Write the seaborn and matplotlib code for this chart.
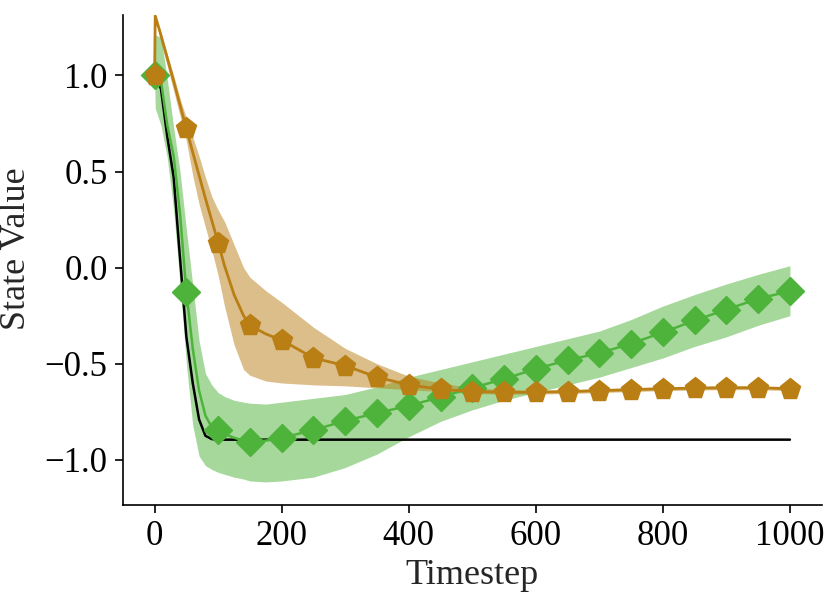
import matplotlib
matplotlib.use("Agg")
import matplotlib.pyplot as plt
import numpy as np
import pandas as pd
import seaborn as sns

# values
timesteps = [0, 1, 10, 20, 30, 40, 50, 60, 70, 80, 90, 100, 110, 125, 140, 150, 175, 200,
             250, 300, 350, 400, 450, 500, 550, 600, 650, 700, 750, 800, 850, 900, 950, 1000]

reference = [1.0, 1.0, 0.93, 0.68, 0.47, 0.05, -0.36, -0.6, -0.79, -0.875, -0.892, -0.895, -0.895,
             -0.895, -0.895, -0.895, -0.895, -0.895, -0.895, -0.895, -0.895, -0.895, -0.895, -0.895,
             -0.895, -0.895, -0.895, -0.895, -0.895, -0.895, -0.895, -0.895, -0.895, -0.895]

green_mean = [1.0, 1.0, 0.97, 0.74, 0.58, 0.28, -0.127, -0.42, -0.64, -0.77, -0.83, -0.845, -0.865,
              -0.885, -0.9, -0.906, -0.9, -0.886, -0.845, -0.797, -0.756, -0.719, -0.673, -0.626,
              -0.579, -0.527, -0.481, -0.445, -0.395, -0.337, -0.275, -0.218, -0.162, -0.122]
green_lo = [1.0, 0.83, 0.74, 0.57, 0.3, -0.08, -0.5, -0.82, -0.98, -1.03, -1.05, -1.065, -1.075,
            -1.09, -1.10, -1.11, -1.115, -1.11, -1.09, -1.04, -0.97, -0.88, -0.80, -0.74, -0.69,
            -0.65, -0.61, -0.57, -0.52, -0.47, -0.41, -0.36, -0.30, -0.25]
green_hi = [1.0, 1.21, 1.2, 0.98, 0.73, 0.5, 0.2, -0.09, -0.38, -0.55, -0.61, -0.65, -0.67, -0.69,
            -0.70, -0.705, -0.71, -0.70, -0.68, -0.66, -0.62, -0.57, -0.53, -0.49, -0.45, -0.41,
            -0.37, -0.33, -0.27, -0.20, -0.14, -0.085, -0.035, 0.01]

orange_mean = [1.0, 1.31, 1.21, 1.09, 0.97, 0.846, 0.725, 0.6, 0.48, 0.36, 0.245, 0.13, 0.01,
               -0.14, -0.25, -0.30, -0.345, -0.377, -0.47, -0.51, -0.57, -0.61, -0.633, -0.645,
               -0.648, -0.648, -0.645, -0.64, -0.635, -0.63, -0.627, -0.625, -0.625, -0.63]
orange_lo = [1.0, 1.30, 1.17, 1.05, 0.92, 0.79, 0.66, 0.48, 0.33, 0.21, 0.09, -0.04, -0.2, -0.4,
             -0.53, -0.56, -0.59, -0.60, -0.61, -0.615, -0.625, -0.635, -0.645, -0.655, -0.658,
             -0.658, -0.655, -0.65, -0.645, -0.64, -0.637, -0.635, -0.635, -0.64]
orange_hi = [1.0, 1.315, 1.22, 1.11, 1.0, 0.88, 0.78, 0.68, 0.58, 0.47, 0.37, 0.3, 0.24, 0.12, 0.0,
             -0.05, -0.12, -0.18, -0.31, -0.42, -0.50, -0.565, -0.60, -0.625, -0.635, -0.638,
             -0.635, -0.63, -0.625, -0.62, -0.617, -0.615, -0.615, -0.62]

GREEN = "#4eb33a"
ORANGE = "#b97f14"

df = pd.DataFrame({
    "t": timesteps, "ref": reference,
    "g": green_mean, "g_lo": green_lo, "g_hi": green_hi,
    "o": orange_mean, "o_lo": orange_lo, "o_hi": orange_hi,
})
# markers only on every 50th timestep
marks = [i for i, t in enumerate(timesteps) if t % 50 == 0]

sns.set_style("ticks")
plt.rcParams["font.family"] = ["Liberation Serif", "DejaVu Serif"]

fig = plt.figure(figsize=(8.3, 5.96), dpi=100)
ax = fig.add_axes([0.148, 0.153, 0.842, 0.822])

ax.fill_between(df["t"], df["g_lo"], df["g_hi"], color=GREEN, alpha=0.5, linewidth=0, zorder=1)
ax.fill_between(df["t"], df["o_lo"], df["o_hi"], color=ORANGE, alpha=0.5, linewidth=0, zorder=1)

sns.lineplot(data=df, x="t", y="ref", color="black", linewidth=1.8, ax=ax, zorder=2)
sns.lineplot(data=df, x="t", y="g", color=GREEN, linewidth=1.8, marker="D", markersize=14,
             markeredgewidth=1, markeredgecolor=GREEN, markevery=marks, ax=ax, zorder=3)
sns.lineplot(data=df, x="t", y="o", color=ORANGE, linewidth=2.0, marker="p", markersize=15.5,
             markeredgewidth=1, markeredgecolor=ORANGE, markevery=marks, ax=ax, zorder=4)

ax.set_xlim(-50, 1050)
ax.set_ylim(-1.234, 1.315)
ax.set_xticks([0, 200, 400, 600, 800, 1000])
ax.set_yticks([-1.0, -0.5, 0.0, 0.5, 1.0])
ax.set_yticklabels(["\u22121.0", "\u22120.5", "0.0", "0.5", "1.0"])
ax.tick_params(labelsize=25, length=6, width=1.2, pad=5, color="black", labelcolor="black")
ax.set_xlabel("Timestep", fontsize=26, labelpad=4)
ax.set_ylabel("State Value", fontsize=26)
ax.yaxis.set_label_coords(-0.129, 0.522)
for side in ("left", "bottom"):
    ax.spines[side].set_linewidth(1.2)
    ax.spines[side].set_color("black")
sns.despine(ax=ax)

fig.savefig("out.png", dpi=100)
